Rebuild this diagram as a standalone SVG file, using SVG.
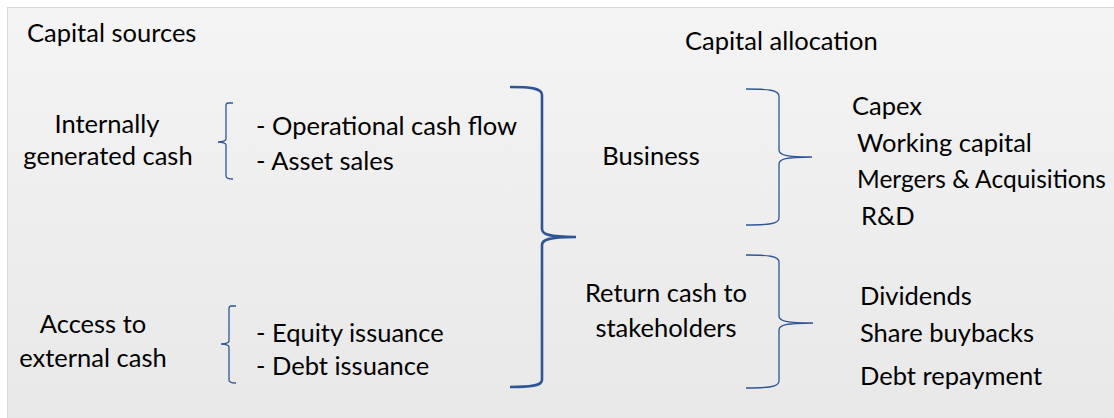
<svg xmlns="http://www.w3.org/2000/svg" width="1114" height="418" viewBox="0 0 1114 418">
<defs>
<linearGradient id="bg" x1="0" y1="0" x2="0" y2="1">
<stop offset="0" stop-color="#f4f4f4"/>
<stop offset="1" stop-color="#e8e8e8"/>
</linearGradient>
<style>
text{font-family:Lato,"Open Sans",sans-serif;font-size:25.5px;fill:#000}
.c{text-anchor:middle}
.thin{fill:none;stroke:#2f5597;stroke-width:1.3}
.thick{fill:none;stroke:#2f5597;stroke-width:2.6}
</style>
</defs>
<rect width="1114" height="418" fill="#fff"/>
<rect x="7.5" y="7.5" width="1112" height="416" fill="url(#bg)" stroke="#d9d9d9"/>
<text x="27" y="42">Capital sources</text>
<text x="685" y="50">Capital allocation</text>
<g id="internal"><text class="c" x="107" y="133">Internally</text><text class="c" x="108" y="165">generated cash</text></g>
<g id="internal-items"><text x="256" y="135">- Operational cash flow</text><text x="256" y="170">- Asset sales</text></g>
<g id="external"><text class="c" x="93" y="333">Access to</text><text class="c" x="93" y="367">external cash</text></g>
<g id="external-items"><text x="256" y="342">- Equity issuance</text><text x="256" y="375">- Debt issuance</text></g>
<g id="business"><text class="c" x="651" y="165">Business</text></g>
<g id="return"><text class="c" x="666" y="302">Return cash to</text><text class="c" x="666" y="337">stakeholders</text></g>
<g id="business-items"><text x="852" y="115">Capex</text><text x="857" y="152">Working capital</text><text x="857" y="188" textLength="249" lengthAdjust="spacingAndGlyphs">Mergers &amp; Acquisitions</text><text x="861" y="225">R&amp;D</text></g>
<g id="return-items"><text x="860" y="305">Dividends</text><text x="860" y="342">Share buybacks</text><text x="860" y="385">Debt repayment</text></g>
<g id="connectors">
<path class="thin" d="M233,103 L228,103 Q226,103 226,106 L226,139 Q226,141.5 218,142 Q226,142.5 226,145 L226,176 Q226,179 233,179"/>
<path class="thin" d="M236,306 L231,306 Q229,306 229,309 L229,341 Q229,343.5 221,344 Q229,344.5 229,347 L229,380 Q229,383 236,383"/>
<path class="thick" d="M510,87 C530,87 542,88 542,95 L542,229 C542,234 548,237 576,237 C548,237 542,240 542,245 L542,380 C542,386 530,387 510,387"/>
<path class="thin" d="M746,89 C768,89 779,90 779,96 L779,150 C779,155 786,157 812,157 C786,157 779,159 779,164 L779,218 C779,224 768,225 746,225"/>
<path class="thin" d="M746,255 C768,255 779,256 779,262 L779,316 C779,321 786,323 813,323 C786,323 779,325 779,330 L779,381 C779,387 768,388 746,388"/>
</g>
</svg>
